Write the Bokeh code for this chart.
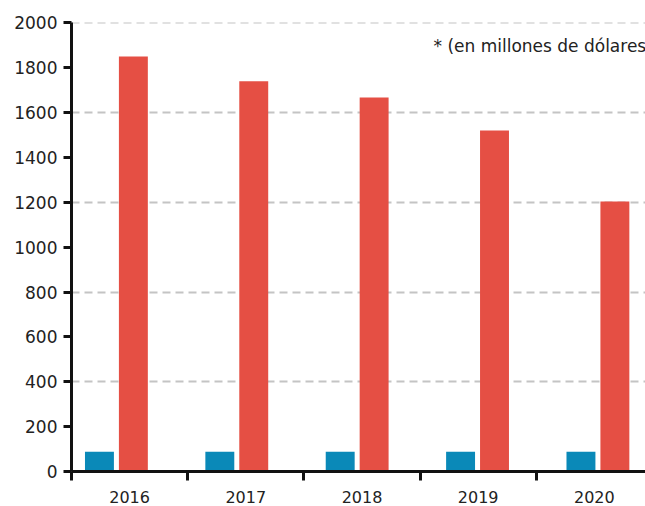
import numpy as np
from bokeh.plotting import figure
from bokeh.models import Range1d, FixedTicker, Label, ColumnDataSource
from bokeh.embed import file_html
from bokeh.resources import INLINE

# ---- data ----
years = ["2016", "2017", "2018", "2019", "2020"]
serie_azul = [88, 88, 88, 88, 88]
serie_roja = [1850, 1740, 1668, 1521, 1204]
y_ticks = [0, 200, 400, 600, 800, 1000, 1200, 1400, 1600, 1800, 2000]
grid_ticks = [400, 800, 1200, 1600, 2000]
nota = "* (en millones de dólares"

BLUE = "#0a89b8"
RED = "#e54f44"
TXT = "#222222"
FONT = "DejaVu Sans"

# layout in "tick units" (label spacing = 1); bars use a slightly wider pitch
idx = np.arange(len(years))
bar_pitch = 1.036
pair_center = -0.1135 + idx * bar_pitch
off = 0.146
bw = 0.249

src = ColumnDataSource(dict(
    xb=pair_center - off, xr=pair_center + off,
    azul=serie_azul, roja=serie_roja, year=years))

p = figure(width=645, height=506, output_backend="svg", toolbar_location=None,
           x_range=Range1d(-0.5, 4.44), y_range=Range1d(0, 2002),
           min_border_left=71, min_border_right=0, min_border_top=22,
           min_border_bottom=35)
p.outline_line_color = None
p.background_fill_color = "white"
p.border_fill_color = "white"

p.vbar(x="xb", top="azul", width=bw, bottom=0, source=src, color=BLUE, line_color=None)
p.vbar(x="xr", top="roja", width=bw, bottom=0, source=src, color=RED, line_color=None)

# grid
p.xgrid.visible = False
p.ygrid.ticker = FixedTicker(ticks=grid_ticks)
p.ygrid.grid_line_color = "#c4c4c4"
p.ygrid.grid_line_width = 2
p.ygrid.grid_line_dash = "8 5"

# y axis
ya = p.yaxis[0]
ya.ticker = FixedTicker(ticks=y_ticks)
ya.axis_line_width = 3
ya.axis_line_color = "#111111"
ya.major_tick_line_width = 3
ya.major_tick_line_color = "#111111"
ya.major_tick_out = 8
ya.major_tick_in = 0
ya.minor_tick_line_color = None
ya.major_label_text_font = FONT
ya.major_label_text_font_size = "17px"
ya.major_label_text_color = TXT
ya.major_label_standoff = 6

# x axis
xa = p.xaxis[0]
label_pos = list(range(len(years)))
xa.ticker = FixedTicker(ticks=label_pos, minor_ticks=[k - 0.5 for k in range(len(years) + 1)])
xa.major_label_overrides = {k: y for k, y in zip(label_pos, years)}
xa.axis_line_width = 3
xa.axis_line_color = "#111111"
xa.major_tick_line_color = None
xa.major_tick_out = 0
xa.major_tick_in = 0
xa.minor_tick_line_width = 3
xa.minor_tick_line_color = "#111111"
xa.minor_tick_out = 9
xa.minor_tick_in = 0
xa.major_label_text_font = FONT
xa.major_label_text_font_size = "16px"
xa.major_label_text_color = TXT
xa.major_label_standoff = 10

p.add_layout(Label(x=362, y=1897, x_units="screen", text=nota,
                   text_font=FONT, text_font_size="17px", text_color=TXT,
                   text_baseline="alphabetic", text_align="left"))

open("out.html", "w").write(file_html(p, INLINE))
